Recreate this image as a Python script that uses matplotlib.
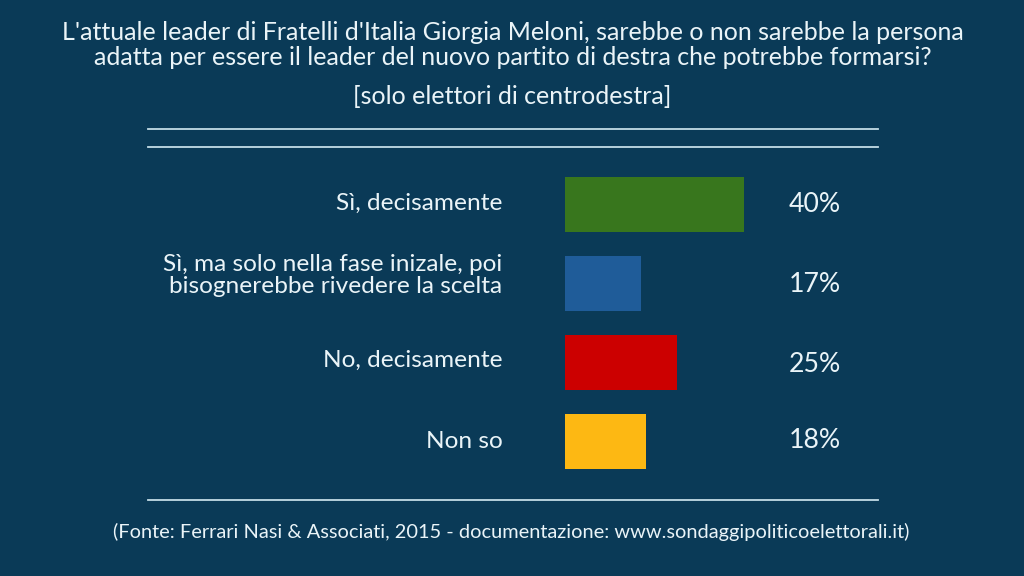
import matplotlib
matplotlib.use("Agg")
import matplotlib.pyplot as plt
from matplotlib.lines import Line2D

categories = ["Sì, decisamente",
              "Sì, ma solo nella fase inizale, poi\nbisognerebbe rivedere la scelta",
              "No, decisamente", "Non so"]
values = [40, 17, 25, 18]
colors = ["#38761d", "#1f5c99", "#cc0000", "#fdb813"]
title = ("L'attuale leader di Fratelli d'Italia Giorgia Meloni, sarebbe o non sarebbe la persona\n"
         "adatta per essere il leader del nuovo partito di destra che potrebbe formarsi?")
subtitle = "[solo elettori di centrodestra]"
source = "(Fonte: Ferrari Nasi & Associati, 2015 - documentazione: www.sondaggipoliticoelettorali.it)"

W, H = 1024, 576
BG = "#0a3a57"
FG = "#eaf4f8"
plt.rcParams["font.family"] = ["Lato", "DejaVu Sans"]
fig = plt.figure(figsize=(W / 100, H / 100), dpi=100, facecolor=BG)

def fx(x): return x / W
def fy(y): return 1 - y / H

# axes spans the four bar slots; x scale: 0-40 maps onto 565-744 px
top = 204.7 - 0.5 * 79
bot = 204.7 + 3.5 * 79
ax = fig.add_axes([fx(565), fy(bot), 179 / W, (bot - top) / H])
ax.set_facecolor("none")
pos = list(range(len(values)))
ax.barh(pos, values, height=55 / 79, color=colors)
ax.set_xlim(0, 40)
ax.set_ylim(3.5, -0.5)
ax.axis("off")

label_y = [203.5, 275.5, 360, 441.5]
value_y = [204, 284, 364.5, 441]
for i, (c, v) in enumerate(zip(categories, values)):
    fig.text(fx(502.5), fy(label_y[i]), c, ha="right", va="center", fontsize=17.6,
             color=FG, linespacing=1.09)
    fig.text(fx(815), fy(value_y[i]), f"{v}%", ha="center", va="center", fontsize=19.2, color=FG)

fig.text(fx(512.5), fy(45), title, ha="center", va="center", fontsize=18, color=FG, linespacing=1.06)
fig.text(fx(512), fy(96.5), subtitle, ha="center", va="center", fontsize=18, color=FG)
fig.text(fx(511.5), fy(532), source, ha="center", va="center", fontsize=14.4, color=FG)

for y in (129, 147, 500):
    fig.add_artist(Line2D([fx(148), fx(878)], [fy(y), fy(y)], color="#c4dce6", lw=1.3))

fig.savefig("out.png", dpi=100, facecolor=BG)
